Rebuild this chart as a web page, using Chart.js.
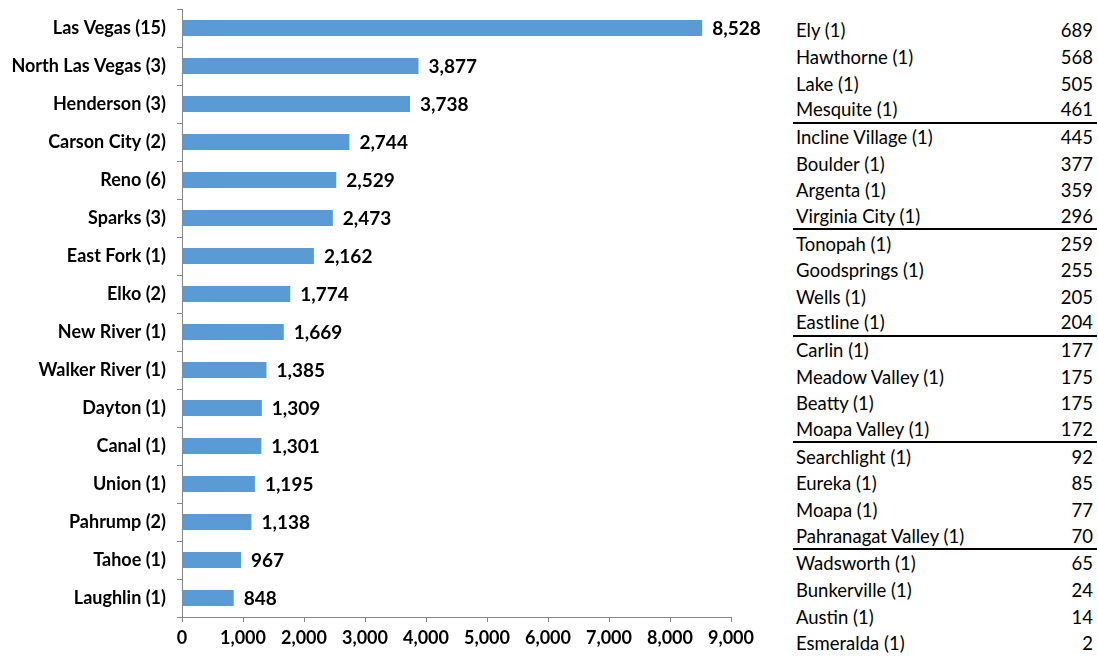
<!DOCTYPE html>
<html>
<head>
<meta charset="utf-8">
<script src="https://cdn.jsdelivr.net/npm/chart.js@4/dist/chart.umd.min.js"></script>
<style>
  body { margin: 0; background: #fff; width: 1098px; height: 656px; overflow: hidden; }
  #wrap { position: absolute; left: 0; top: 0; width: 778px; height: 656px; }
  #side { position: absolute; left: 793px; top: 17px; width: 304px;
          font-family: Lato, sans-serif; font-size: 18.5px; color: #000; }
  .row { position: absolute; left: 0; width: 304px; height: 26.65px; box-sizing: border-box;
         display: flex; align-items: center; justify-content: space-between; padding: 0 4px 0 3px; }
  .row.sep { border-bottom: 2px solid #000; }
</style>
</head>
<body>
<div id="wrap"><canvas id="bars"></canvas></div>
<div id="side"></div>
<script>
// main bars
const cities = ["Las Vegas (15)", "North Las Vegas (3)", "Henderson (3)", "Carson City (2)", "Reno (6)",
  "Sparks (3)", "East Fork (1)", "Elko (2)", "New River (1)", "Walker River (1)", "Dayton (1)",
  "Canal (1)", "Union (1)", "Pahrump (2)", "Tahoe (1)", "Laughlin (1)"];
const counts = [8528, 3877, 3738, 2744, 2529, 2473, 2162, 1774, 1669, 1385, 1309, 1301, 1195, 1138, 967, 848];
const xTicks = [0, 1000, 2000, 3000, 4000, 5000, 6000, 7000, 8000, 9000];

// smaller places, listed on the right
const smallCities = ["Ely (1)", "Hawthorne (1)", "Lake (1)", "Mesquite (1)", "Incline Village (1)",
  "Boulder (1)", "Argenta (1)", "Virginia City (1)", "Tonopah (1)", "Goodsprings (1)", "Wells (1)",
  "Eastline (1)", "Carlin (1)", "Meadow Valley (1)", "Beatty (1)", "Moapa Valley (1)", "Searchlight (1)",
  "Eureka (1)", "Moapa (1)", "Pahranagat Valley (1)", "Wadsworth (1)", "Bunkerville (1)", "Austin (1)",
  "Esmeralda (1)"];
const smallCounts = [689, 568, 505, 461, 445, 377, 359, 296, 259, 255, 205, 204, 177, 175, 175, 172,
  92, 85, 77, 70, 65, 24, 14, 2];

const fmt = (v) => v.toLocaleString("en-US");
const fontFam = "Lato, sans-serif";

const side = document.getElementById("side");
smallCities.forEach((name, i) => {
  const row = document.createElement("div");
  row.className = "row";
  if (i % 4 == 3 && i < smallCities.length - 1) row.className += " sep";
  row.style.top = (i * 26.65) + "px";
  row.innerHTML = "<span>" + name + "</span><span>" + fmt(smallCounts[i]) + "</span>";
  side.appendChild(row);
});

const valueLabels = {
  id: "valueLabels",
  afterDatasetsDraw(chart) {
    const ctx = chart.ctx;
    const meta = chart.getDatasetMeta(0);
    ctx.save();
    ctx.font = "bold 19px " + fontFam;
    ctx.fillStyle = "#000";
    ctx.textAlign = "left";
    ctx.textBaseline = "middle";
    meta.data.forEach((bar, i) => {
      ctx.fillText(fmt(counts[i]), bar.x + 10, bar.y + 1);
    });
    ctx.restore();
  },
};

new Chart(document.getElementById("bars"), {
  type: "bar",
  data: {
    labels: cities,
    datasets: [{
      data: counts,
      backgroundColor: "#5B9BD5",
      borderWidth: 0,
      barPercentage: 0.42,
      categoryPercentage: 1,
    }],
  },
  options: {
    indexAxis: "y",
    responsive: true,
    maintainAspectRatio: false,
    animation: false,
    layout: { padding: { top: 9, right: 47, left: 0, bottom: 0 } },
    plugins: { legend: { display: false }, tooltip: { enabled: false } },
    scales: {
      x: {
        min: 0,
        max: 9000,
        afterBuildTicks(scale) {
          scale.ticks = xTicks.map((v) => ({ value: v }));
        },
        afterFit(scale) { scale.height = 39; },
        border: { color: "#868686", width: 1 },
        grid: { drawOnChartArea: false, tickLength: 5, color: "#868686" },
        ticks: {
          color: "#000",
          font: { family: fontFam, size: 18, weight: "bold" },
          padding: 5,
          maxRotation: 0,
          autoSkip: false,
          callback: (v) => fmt(v),
        },
      },
      y: {
        afterFit(scale) {
          scale.width = 182;
          scale.paddingTop = 0;
          scale.paddingBottom = 0;
        },
        border: { color: "#868686", width: 1 },
        grid: { offset: true, drawOnChartArea: false, tickLength: 5, color: "#868686" },
        ticks: {
          color: "#000",
          font: { family: fontFam, size: 18, weight: "bold" },
          padding: 11,
        },
      },
    },
  },
  plugins: [valueLabels],
});
</script>
</body>
</html>
